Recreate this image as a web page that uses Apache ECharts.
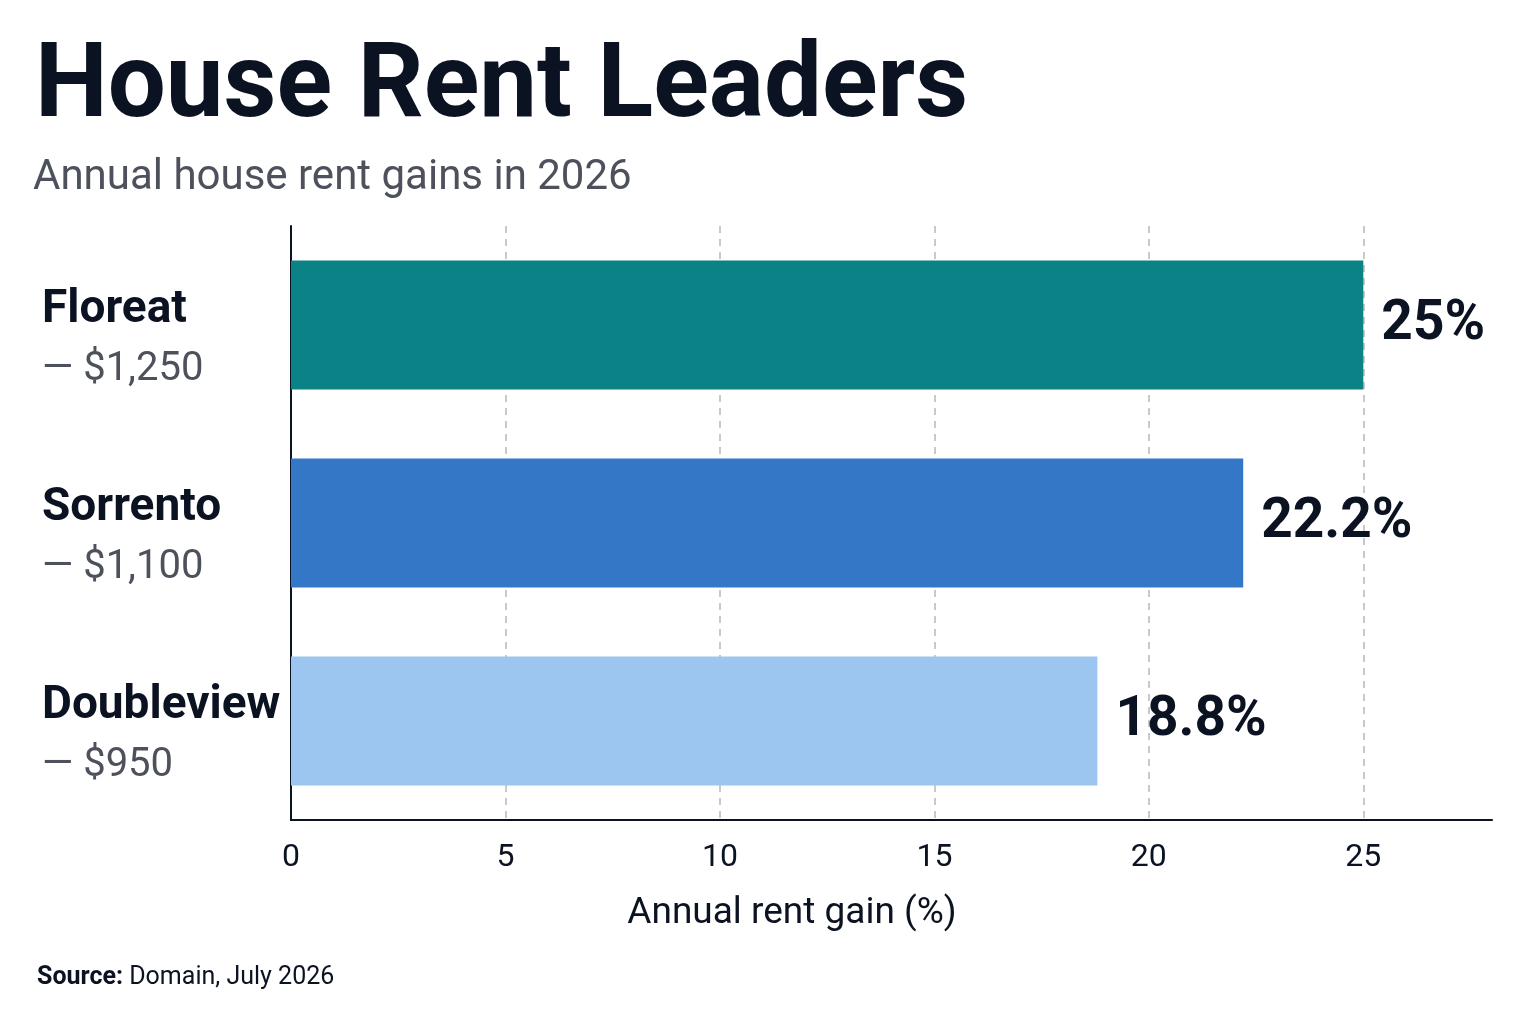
<!DOCTYPE html>
<html>
<head>
<meta charset="utf-8">
<script src="https://cdn.jsdelivr.net/npm/echarts@6/dist/echarts.min.js"></script>
<style>
  html, body { margin: 0; padding: 0; background: #fff; }
  #chart { width: 1536px; height: 1024px; }
</style>
</head>
<body>
<div id="chart"></div>
<script>
  // data
  const suburbs = ['Floreat', 'Sorrento', 'Doubleview']
  const rents = ['$1,250', '$1,100', '$950']
  const gains = [25, 22.2, 18.8]
  const barColors = ['#0b8286', '#3477c6', '#9cc5f0']
  const xTicks = [0, 5, 10, 15, 20, 25]

  const dark = '#0b1322'
  const grey = '#4d515b'
  const font = 'Roboto'

  const chart = echarts.init(document.getElementById('chart'))

  const option = {
    backgroundColor: '#ffffff',
    title: [
      {
        text: 'House Rent Leaders',
        left: 30, top: 34,
        textStyle: { fontFamily: font, fontWeight: 'bold', fontSize: 103, color: dark }
      },
      {
        text: 'Annual house rent gains in 2026',
        left: 28, top: 152,
        textStyle: { fontFamily: font, fontWeight: 'normal', fontSize: 42, color: grey }
      },
      {
        text: '{b|Source:} Domain, July 2026',
        left: 32, top: 960,
        textStyle: {
          fontFamily: font, fontSize: 25, fontWeight: 'normal', color: dark,
          rich: { b: { fontFamily: font, fontSize: 25, fontWeight: 'bold', color: dark } }
        }
      }
    ],
    graphic: [
      {
        type: 'text', x: 792, y: 914,
        style: {
          text: 'Annual rent gain (%)', textAlign: 'center', textVerticalAlign: 'middle',
          fontFamily: font, fontSize: 37, fill: dark
        }
      }
    ],
    grid: { left: 291, right: 44, top: 226, bottom: 204, containLabel: false },
    xAxis: {
      type: 'value',
      min: 0, max: 28, interval: 5,
      axisLine: { show: true, lineStyle: { color: dark, width: 2 } },
      axisTick: { show: false },
      axisLabel: {
        margin: 22, fontFamily: font, fontSize: 32, color: dark,
        showMaxLabel: false,
        formatter: v => (xTicks.indexOf(v) >= 0 ? String(v) : '')
      },
      splitLine: {
        show: true, showMinLine: false, showMaxLine: false,
        lineStyle: { color: '#b8b8b8', type: [7, 6], width: 1.5 }
      }
    },
    yAxis: {
      type: 'category',
      inverse: true,
      data: suburbs,
      axisLine: { show: true, lineStyle: { color: dark, width: 2 } },
      axisTick: { show: false },
      axisLabel: {
        margin: 249, align: 'left',
        padding: [30, 0, 0, 0],
        formatter: (v, i) => '{n|' + v + '}\n{r|— ' + rents[i] + '}',
        rich: {
          n: { fontFamily: font, fontWeight: 'bold', fontSize: 46, color: dark, lineHeight: 60 },
          r: { fontFamily: font, fontSize: 40, color: grey, lineHeight: 60 }
        }
      }
    },
    series: [
      {
        type: 'bar',
        data: gains.map((v, i) => ({ value: v, itemStyle: { color: barColors[i] } })),
        barWidth: 129,
        label: {
          show: true, position: 'right', distance: 18,
          formatter: p => p.value + '%',
          fontFamily: font, fontWeight: 'bold', fontSize: 55, color: dark
        }
      }
    ]
  }

  chart.setOption(option)
</script>
</body>
</html>
